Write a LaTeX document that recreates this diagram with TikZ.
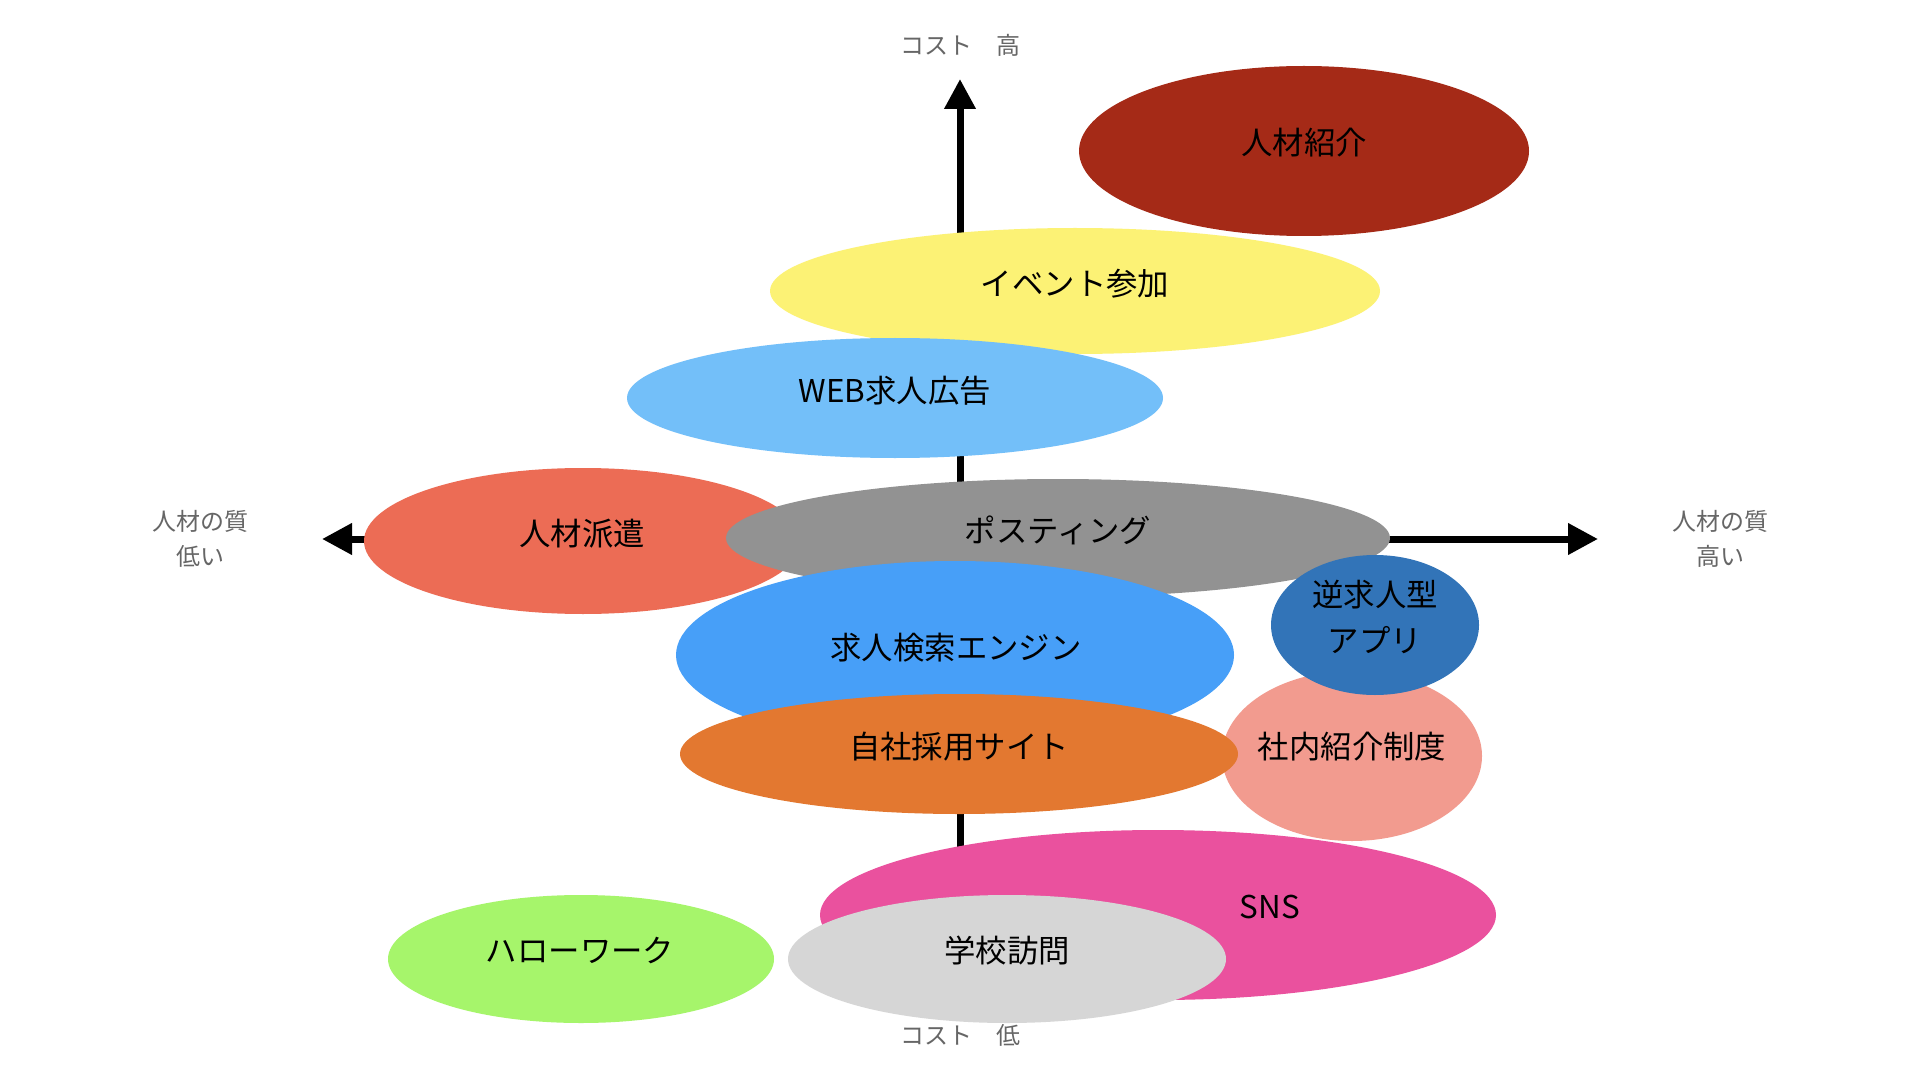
\documentclass[tikz,border=0pt]{standalone}
\usepackage{fontspec}
\setmainfont{Noto Sans CJK JP}
\usetikzlibrary{shapes.geometric,arrows.meta}
\definecolor{cShokai}{HTML}{A52A17}
\definecolor{cEvent}{HTML}{FCF275}
\definecolor{cWeb}{HTML}{73BFF9}
\definecolor{cHaken}{HTML}{EC6C55}
\definecolor{cPost}{HTML}{929292}
\definecolor{cKensaku}{HTML}{479FF8}
\definecolor{cGyaku}{HTML}{3274B8}
\definecolor{cShanai}{HTML}{F29B8F}
\definecolor{cJisha}{HTML}{E37830}
\definecolor{cSns}{HTML}{EA519E}
\definecolor{cHello}{HTML}{A6F56B}
\definecolor{cGakko}{HTML}{D6D6D6}
\definecolor{axislbl}{HTML}{666666}
\tikzset{
  blob/.style={ellipse, inner sep=0pt, draw=none},
  lbl/.style={inner sep=0pt, text=black, align=center, font=\fontsize{15.7pt}{23.3pt}\selectfont},
  axlbl/.style={inner sep=0pt, text=axislbl, align=center, font=\fontsize{12pt}{17.5pt}\selectfont},
  axisline/.style={line width=3.5pt, draw=black},
  tip/.style={-{Triangle[width=15pt,length=15pt]}},
  tips/.style={{Triangle[width=15pt,length=15pt]}-{Triangle[width=15pt,length=15pt]}}
}
\begin{document}
\begin{tikzpicture}[x=0.5pt,y=-0.5pt]
\useasboundingbox (0,0) rectangle (1920,1080);
\fill[white] (0,0) rectangle (1920,1080);
% axes
\coordinate (ytop) at (960,79);
\coordinate (ybot) at (960,1000);
\coordinate (xl) at (322,539);
\coordinate (xr) at (1598,539);
\draw[axisline, tip] (ybot) -- (ytop);
\draw[axisline, tips] (xl) -- (xr);
% axis labels
\node[axlbl] (costhigh) at (960,45) {コスト　高};
\node[axlbl] (costlow) at (960,1035) {コスト　低};
\node[axlbl] (qlow) at (200,539) {人材の質\\低い};
\node[axlbl] (qhigh) at (1720,539) {人材の質\\高い};
% ellipses
\node[blob, fill=cShokai, minimum width=225pt, minimum height=85pt] (shokai) at (1304,151) {};
\node[lbl] (shokai-t) at (1304,143) {人材紹介};
\node[blob, fill=cEvent, minimum width=305pt, minimum height=63pt] (event) at (1075,291) {};
\node[lbl] (event-t) at (1075,284) {イベント参加};
\node[blob, fill=cWeb, minimum width=268pt, minimum height=60pt] (web) at (895,398) {};
\node[lbl] (web-t) at (895,391) {WEB求人広告};
\node[blob, fill=cHaken, minimum width=219pt, minimum height=73pt] (haken) at (583,541) {};
\node[lbl] (haken-t) at (582,534) {人材派遣};
\node[blob, fill=cPost, minimum width=332pt, minimum height=59pt] (post) at (1058,538) {};
\node[lbl] (post-t) at (1058,530) {ポスティング};
\node[blob, fill=cKensaku, minimum width=279pt, minimum height=94pt] (kensaku) at (955,655) {};
\node[lbl] (kensaku-t) at (956,648) {求人検索エンジン};
\node[blob, fill=cShanai, minimum width=130pt, minimum height=85pt] (shanai) at (1352,756) {};
\node[lbl] (shanai-t) at (1352,747) {社内紹介制度};
\node[blob, fill=cGyaku, minimum width=104pt, minimum height=70pt] (gyaku) at (1375,625) {};
\node[lbl] (gyaku-t) at (1375,617) {逆求人型\\アプリ};
\node[blob, fill=cJisha, minimum width=279pt, minimum height=60pt] (jisha) at (959,754) {};
\node[lbl] (jisha-t) at (959,747) {自社採用サイト};
\node[blob, fill=cSns, minimum width=338pt, minimum height=85pt] (sns) at (1158,915) {};
\node[lbl] (sns-t) at (1270,907) {SNS};
\node[blob, fill=cHello, minimum width=193pt, minimum height=64pt] (hello) at (581,959) {};
\node[lbl] (hello-t) at (580,951) {ハローワーク};
\node[blob, fill=cGakko, minimum width=219pt, minimum height=64pt] (gakko) at (1007,959) {};
\node[lbl] (gakko-t) at (1007,951) {学校訪問};
\end{tikzpicture}
\end{document}
